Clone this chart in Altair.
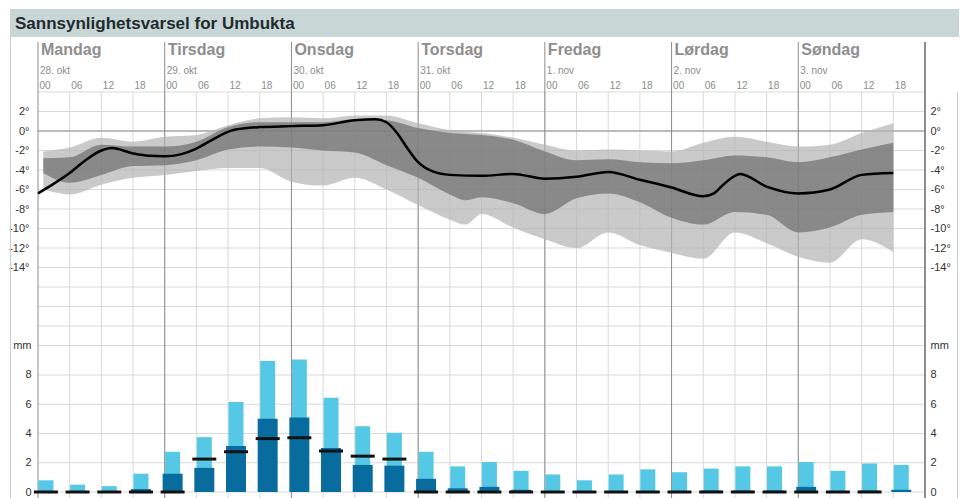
import altair as alt
import pandas as pd

# ---------------- data ----------------
days = ["Mandag", "Tirsdag", "Onsdag", "Torsdag", "Fredag", "Lørdag", "Søndag"]
dates = ["28. okt", "29. okt", "30. okt", "31. okt", "1. nov", "2. nov", "3. nov"]
day_start_hours = [0, 24, 48, 72, 96, 120, 144]
day_line_hours = [0, 24, 48, 72, 96, 120, 144, 168]
day_line_widths = [1, 1, 1, 1, 1, 1, 1, 2]
hour_ticks = list(range(0, 163, 6))
hour_grid = list(range(6, 168, 6))
temp_grid = list(range(4, -23, -2))
temp_ticks = list(range(2, -15, -2))
mm_grid = [0, 2, 4, 6, 8]
mm_ticks = [0, 2, 4, 6, 8, 10]

# temperature percentile bands (hours from Monday 00)
band_hours = [1, 6, 12, 18, 24, 30, 36, 42, 48, 54, 60, 66, 72, 78, 81, 84, 90, 96,
              102, 108, 114, 120, 126, 132, 138, 144, 150, 156, 162]
p90 = [-2.1, -1.7, -0.7, -1.1, -0.6, -0.4, 0.6, 1.3, 1.4, 1.3, 1.6, 1.6, 0.8, 0.1, -0.1,
       -0.2, -0.7, -1.4, -2.0, -1.9, -2.0, -2.1, -1.2, -0.6, -1.1, -1.6, -1.4, -0.2, 0.8]
p75 = [-2.8, -2.7, -1.4, -1.6, -1.6, -1.1, 0.4, 0.9, 0.9, 0.9, 1.2, 1.1, 0.3, -0.2, -0.3,
       -0.4, -0.9, -2.1, -3.0, -2.9, -3.2, -3.3, -3.0, -2.5, -2.7, -3.2, -2.7, -1.9, -1.2]
p25 = [-4.3, -5.3, -4.5, -3.6, -3.5, -3.0, -1.9, -1.6, -1.7, -2.0, -2.2, -3.5, -4.8, -6.5,
       -7.1, -6.8, -7.4, -8.5, -6.9, -6.4, -7.3, -8.9, -9.6, -8.3, -8.6, -10.4, -9.9, -8.6, -8.3]
p10 = [-6.0, -6.5, -5.5, -4.8, -4.5, -4.1, -3.8, -3.8, -5.2, -5.6, -4.8, -6.0, -7.6, -9.1,
       -9.6, -8.5, -9.9, -11.1, -12.0, -10.4, -11.7, -12.5, -13.1, -10.4, -11.5, -12.9,
       -13.5, -11.1, -12.4]

# median temperature line
line_hours = [0, 3, 6, 9, 12, 14, 18, 21, 24, 27, 30, 33, 37, 42, 48, 54, 60, 64, 66, 68,
              70, 72, 75, 78, 84, 90, 96, 102, 108, 114, 120, 126, 128, 130, 133, 138, 144,
              150, 156, 162]
line_temp = [-6.4, -5.4, -4.3, -3.0, -2.0, -1.75, -2.3, -2.55, -2.6, -2.4, -1.8, -0.9, 0.1,
             0.4, 0.5, 0.6, 1.1, 1.2, 0.9, -0.2, -1.8, -3.2, -4.2, -4.5, -4.6, -4.4, -4.9,
             -4.7, -4.2, -5.0, -5.8, -6.7, -6.4, -5.4, -4.4, -5.7, -6.4, -6.0, -4.5, -4.3]

# precipitation per 6 h
precip_hours = [0, 6, 12, 18, 24, 30, 36, 42, 48, 54, 60, 66, 72, 78, 84, 90, 96, 102,
                108, 114, 120, 126, 132, 138, 144, 150, 156, 162]
precip_high = [0.8, 0.5, 0.4, 1.25, 2.75, 3.75, 6.15, 8.95, 9.05, 6.45, 4.5, 4.05, 2.75,
               1.75, 2.05, 1.45, 1.2, 0.8, 1.2, 1.55, 1.35, 1.6, 1.75, 1.75, 2.05, 1.45,
               1.95, 1.85]
precip_mid = [0, 0, 0, 0.2, 1.25, 1.65, 3.15, 5.0, 5.1, 3.0, 1.85, 1.8, 0.9, 0.25, 0.35,
              0.15, 0.05, 0.05, 0.05, 0.05, 0.05, 0.1, 0.1, 0.1, 0.35, 0.05, 0.1, 0.15]
precip_low = [0, 0, 0, 0, 0, 2.25, 2.75, 3.65, 3.7, 2.8, 2.45, 2.25, 0, 0, 0, 0, 0, 0, 0,
              0, 0, 0, 0, 0, 0, 0, 0, None]

title_text = "Sannsynlighetsvarsel for Umbukta"

# ---------------- layout ----------------
W, H = 887, 406
PAD_L, PAD_T, PAD_R = 30, 84, 34
FONT = "Liberation Sans"
GRID = "#d9d9d9"

xscale = alt.Scale(domain=[0, 168], nice=False, zero=False, padding=0)
tscale = alt.Scale(domain=[4 - H / 9.75, 4], nice=False, zero=False, padding=0)
pscale = alt.Scale(domain=[-(H - 400) / 14.63, 400 / 14.63], nice=False, zero=False,
                   padding=0)

one = pd.DataFrame({"k": [0]})
day_df = pd.DataFrame({"h": day_start_hours, "day": days, "date": dates})
dline_df = pd.DataFrame({"h": day_line_hours, "w": day_line_widths})
hgrid_df = pd.DataFrame({"h": hour_grid})
htick_df = pd.DataFrame({"h": hour_ticks})
tgrid_df = pd.DataFrame({"t": temp_grid})
pgrid_df = pd.DataFrame({"p": mm_grid})
band_df = pd.DataFrame({"h": band_hours, "p10": p10, "p25": p25, "p75": p75, "p90": p90})
line_df = pd.DataFrame({"h": line_hours, "t": line_temp})
prec_df = pd.DataFrame({"h": precip_hours, "high": precip_high, "mid": precip_mid,
                        "low": precip_low})


def X(field):
    return alt.X(field, type="quantitative", scale=xscale, axis=None)


temp_labels = "toString(datum.value) + '\u00b0'"
mm_labels = "datum.value == 10 ? 'mm' : toString(datum.value)"


def yaxis(orient, values, expr, pad):
    return alt.Axis(orient=orient, values=values, grid=False, ticks=False, domain=False,
                    labelPadding=pad, labelFontSize=11, labelColor="#333333",
                    labelFont=FONT, labelOverlap=False, labelExpr=expr, title=None)


# header / frame
title_bar = alt.Chart(one).mark_rect(color="#c9d6d6").encode(
    x=alt.value(-28), x2=alt.value(W + PAD_R), y=alt.value(-83), y2=alt.value(-55))
title_mark = alt.Chart(one).mark_text(
    text=title_text, align="left", baseline="alphabetic", font=FONT, fontSize=17,
    fontWeight="bold", color="#1f2b2f").encode(x=alt.value(-23), y=alt.value(-63))
left_frame = alt.Chart(one).mark_rule(color="#c8cccc").encode(
    x=alt.value(-27.5), y=alt.value(-55), y2=alt.value(H))
right_frame = alt.Chart(one).mark_rule(color="#c8cccc").encode(
    x=alt.value(W + 32.5), y=alt.value(0), y2=alt.value(H))

# grid
hour_gridlines = alt.Chart(hgrid_df).mark_rule(color=GRID).encode(
    x=X("h"), y=alt.value(0), y2=alt.value(H))
temp_gridlines = alt.Chart(tgrid_df).mark_rule(color=GRID).encode(
    y=alt.Y("t:Q", scale=tscale, axis=None))
mm_gridlines = alt.Chart(pgrid_df).mark_rule(color=GRID).encode(
    y=alt.Y("p:Q", scale=pscale, axis=None))
zero_line = alt.Chart(one).transform_calculate(z="0").mark_rule(color="#8a8a8a").encode(
    y=alt.Y("z:Q", scale=tscale, axis=None))

hour_labels = alt.Chart(htick_df).transform_calculate(
    lab="(datum.h % 24 < 10 ? '0' : '') + toString(datum.h % 24)"
).mark_text(align="left", baseline="alphabetic", dx=1.5, font=FONT, fontSize=10,
            color="#8c8c8c").encode(x=X("h"), y=alt.value(-3), text="lab:N")

day_rules = alt.Chart(dline_df).mark_rule(color="#8c8c8c").encode(
    x=X("h"), y=alt.value(-50), y2=alt.value(H),
    strokeWidth=alt.StrokeWidth("w:Q", scale=None, legend=None))
day_names = alt.Chart(day_df).mark_text(
    align="left", baseline="alphabetic", dx=3, font=FONT, fontSize=16, fontWeight="bold",
    color="#8e8e8e").encode(x=X("h"), y=alt.value(-37), text="day:N")
day_dates = alt.Chart(day_df).mark_text(
    align="left", baseline="alphabetic", dx=2, font=FONT, fontSize=10,
    color="#8c8c8c").encode(x=X("h"), y=alt.value(-18), text="date:N")

# temperature
light_band = alt.Chart(band_df).mark_area(color="#b4b4b4", opacity=0.7,
                                          interpolate="monotone").encode(
    x=X("h"), y=alt.Y("p10:Q", scale=tscale, axis=yaxis("left", temp_ticks, temp_labels, 9)),
    y2="p90:Q")
dark_band = alt.Chart(band_df).mark_area(color="#6e6e6e", opacity=0.7,
                                         interpolate="monotone").encode(
    x=X("h"), y=alt.Y("p25:Q", scale=tscale, axis=None), y2="p75:Q")
median_line = alt.Chart(line_df).mark_line(color="#000000", strokeWidth=2.5,
                                           interpolate="monotone").encode(
    x=X("h"), y=alt.Y("t:Q", scale=tscale, axis=yaxis("right", temp_ticks, temp_labels, 5)))

# precipitation
pbase = alt.Chart(prec_df).transform_calculate(c="datum.h + 1.5", base="0")
light_bars = pbase.mark_bar(size=15, color="#55c8e5").encode(
    x=X("c"), y=alt.Y("high:Q", scale=pscale, axis=yaxis("left", mm_ticks, mm_labels, 7)),
    y2="base:Q")
dark_bars = pbase.mark_bar(size=20, color="#086c9e").encode(
    x=X("c"), y=alt.Y("mid:Q", scale=pscale, axis=None), y2="base:Q")
ticks = pbase.transform_filter("isValid(datum.low)").mark_tick(
    orient="horizontal", size=24, thickness=3, color="#111111", opacity=1).encode(
    x=X("c"), y=alt.Y("low:Q", scale=pscale, axis=yaxis("right", mm_ticks, mm_labels, 5)))

chart = alt.layer(
    title_bar, title_mark, left_frame, right_frame,
    hour_gridlines, temp_gridlines, mm_gridlines, zero_line, day_rules,
    light_band, dark_band, median_line, light_bars, dark_bars, ticks,
    hour_labels, day_names, day_dates
).resolve_scale(y="independent").properties(
    width=W, height=H,
    autosize=alt.AutoSizeParams(type="none"),
    padding={"left": PAD_L, "top": PAD_T, "right": PAD_R, "bottom": 0},
).configure(font=FONT).configure_view(stroke=None)

chart.save("out.html", embed_options={"renderer": "svg", "actions": False})
